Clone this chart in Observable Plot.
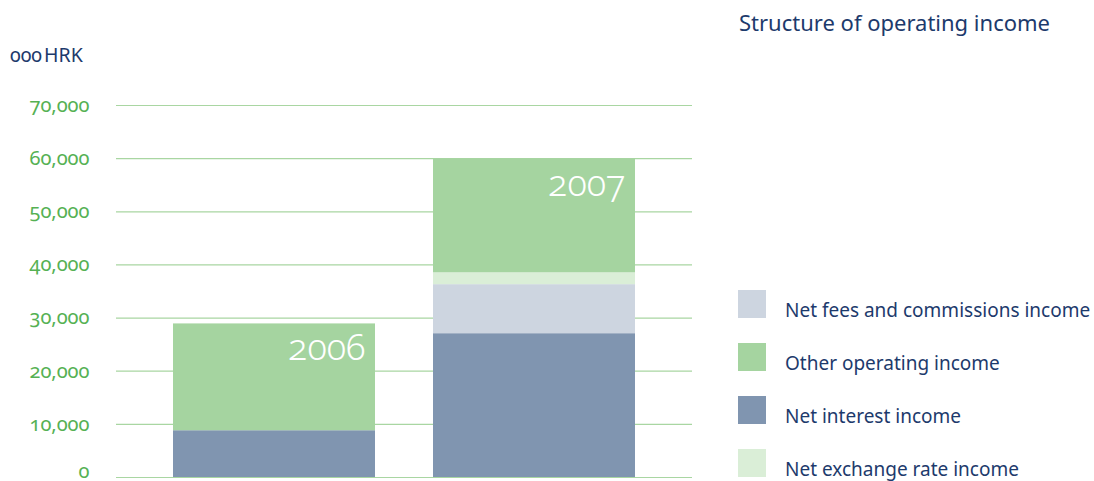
<!DOCTYPE html>
<html>
<head>
<meta charset="utf-8">
<script src="https://cdn.jsdelivr.net/npm/d3@7"></script>
<script src="https://cdn.jsdelivr.net/npm/@observablehq/plot@0.6"></script>
<style>
  html, body { margin: 0; padding: 0; background: #fff; }
  #wrap { position: relative; width: 1094px; height: 481px; overflow: hidden; font-family: "Noto Sans", sans-serif; }
  #wrap svg { position: absolute; left: 0; top: 0; }
  .navy { color: #1d3a6c; position: absolute; white-space: nowrap; }
  #title { left: 739px; top: 7px; font-size: 22px; }
  #unit { left: 10px; top: 41px; font-size: 19.5px; font-variant-numeric: oldstyle-nums; word-spacing: -3px; }
  .sw { position: absolute; left: 738px; width: 28px; height: 28px; }
  .lt { position: absolute; left: 785px; font-size: 19px; color: #1d3a6c; white-space: nowrap; }
</style>
</head>
<body>
<div id="wrap"></div>
<script>
const years = ["2006", "2007"];
const series = ["Net interest income", "Net fees and commissions income", "Net exchange rate income", "Other operating income"];
const netInterest = [8800, 27060];
const netFees = [0, 9230];
const netExchange = [0, 2230];
const otherOperating = [20100, 21400];
const yTicks = [0, 10000, 20000, 30000, 40000, 50000, 60000, 70000];
const colors = ["#8095b0", "#cdd5e0", "#daeed7", "#a5d4a0"];
const legendOrder = ["Net fees and commissions income", "Other operating income", "Net interest income", "Net exchange rate income"];

const valuesBySeries = [netInterest, netFees, netExchange, otherOperating];
const rows = [];
series.forEach((s, i) => years.forEach((y, j) => rows.push({year: y, series: s, value: valuesBySeries[i][j]})));
const totals = years.map((y, j) => ({year: y, total: valuesBySeries.reduce((a, v) => a + v[j], 0)}));

const axisOpts = {tickSize: 0, tickPadding: 27, tickFormat: d3.format(","), fill: "#55b153", fontSize: 20, label: null};

const plot = Plot.plot({
  width: 1094,
  height: 481,
  marginLeft: 116,
  marginRight: 402,
  marginTop: 105,
  marginBottom: 4,
  style: {fontFamily: "Noto Sans, sans-serif", background: "transparent"},
  x: {domain: years, paddingInner: 0.222, paddingOuter: 0.215, axis: null},
  y: {domain: [0, 70000], axis: null},
  color: {domain: series, range: colors},
  marks: [
    Plot.ruleY(yTicks, {stroke: "#a9d6a2", strokeWidth: 1.2}),
    Plot.axisY({...axisOpts, ticks: yTicks.filter(d => d !== 0), dy: 0}),
    Plot.axisY({...axisOpts, ticks: yTicks.filter(d => d === 0), dy: -6}),
    Plot.barY(rows, {x: "year", y: "value", fill: "series", order: series}),
    Plot.text(totals, {x: "year", y: "total", text: "year", fill: "white", fontSize: 36, fontWeight: 300, textAnchor: "end", dx: 91, dy: 25})
  ]
});

const wrap = document.getElementById("wrap");
wrap.appendChild(plot);
plot.querySelectorAll("text").forEach(t => t.style.fontVariantNumeric = "oldstyle-nums");

const title = document.createElement("div");
title.id = "title"; title.className = "navy"; title.textContent = "Structure of operating income";
wrap.appendChild(title);
const unit = document.createElement("div");
unit.id = "unit"; unit.className = "navy"; unit.textContent = "000 HRK";
wrap.appendChild(unit);

legendOrder.forEach((s, i) => {
  const top = 290 + i * 53;
  const sw = document.createElement("div");
  sw.className = "sw"; sw.style.top = top + "px"; sw.style.background = colors[series.indexOf(s)];
  wrap.appendChild(sw);
  const lt = document.createElement("div");
  lt.className = "lt"; lt.style.top = (top + 7) + "px"; lt.textContent = s;
  wrap.appendChild(lt);
});
</script>
</body>
</html>
